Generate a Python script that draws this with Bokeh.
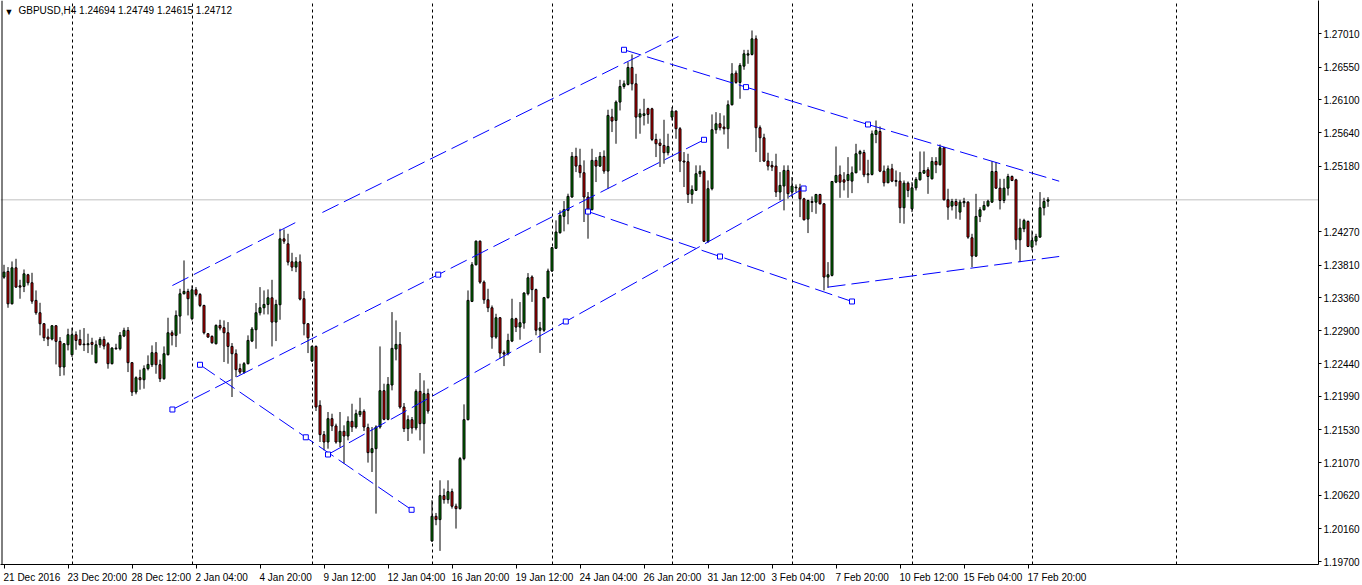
import numpy as np
from bokeh.plotting import figure
from bokeh.models import (ColumnDataSource, FixedTicker, Range1d, Span, Label,
                          PrintfTickFormatter)
from bokeh.embed import file_html
from bokeh.resources import INLINE

symbol = "GBPUSD,H4"

open_ = [
 1.23642,1.23721,1.23273,1.23771,1.23522,1.23513,1.23675,1.23564,1.23320,1.23149,
 1.22997,1.22812,1.22785,1.22969,1.22753,1.22398,1.22706,1.22568,1.22845,1.22780,
 1.22716,1.22706,1.22739,1.22458,1.22706,1.22780,1.22720,1.22444,1.22660,1.22651,
 1.22826,1.22905,1.22458,1.22052,1.22250,1.22222,1.22375,1.22430,1.22596,1.22430,
 1.22236,1.22568,1.22872,1.22836,1.23103,1.23412,1.23444,1.23066,1.23467,1.23403,
 1.23250,1.22859,1.22822,1.22720,1.22974,1.22942,1.22872,1.22683,1.22582,1.22375,
 1.22328,1.22444,1.22757,1.22914,1.23149,1.23218,1.23264,1.23356,1.23020,1.23260,
 1.24172,1.24103,1.23854,1.23781,1.23854,1.23343,1.22997,1.22481,1.22683,1.21867,
 1.21462,1.21360,1.21683,1.21582,1.21360,1.21508,1.21443,1.21646,1.21568,1.21738,
 1.21784,1.21559,1.21213,1.21268,1.21568,1.22070,1.21674,1.22149,1.22647,1.22711,
 1.21844,1.21545,1.21669,1.21554,1.22061,1.21614,1.22029,1.19991,1.20332,1.20286,
 1.20618,1.20563,1.20673,1.20471,1.20438,1.21130,1.21669,1.23306,1.23813,1.24140,
 1.23573,1.23329,1.23218,1.22812,1.23080,1.22596,1.22582,1.22757,1.23066,1.22951,
 1.23006,1.23412,1.23644,1.23469,1.22907,1.22907,1.23358,1.23727,1.24041,1.24257,
 1.24483,1.24566,1.24751,1.25313,1.25189,1.25087,1.24751,1.24576,1.25258,1.25179,
 1.25313,1.25110,1.25857,1.25811,1.26065,1.26281,1.26309,1.26544,1.26318,1.25857,
 1.25880,1.25972,1.25972,1.25548,1.25498,1.25465,1.25364,1.25857,1.25940,1.25696,
 1.25249,1.25239,1.24788,1.24843,1.25073,1.25106,1.24138,1.24866,1.25682,1.25765,
 1.25719,1.25696,1.26028,1.26466,1.26337,1.26562,1.26715,1.26724,1.26940,1.25710,
 1.25571,1.25249,1.25189,1.25179,1.24820,1.24903,1.25119,1.24820,1.24878,1.24878,
 1.24726,1.24445,1.24689,1.24680,1.24786,1.24657,1.23643,1.23666,1.24957,1.25058,
 1.24989,1.24980,1.24971,1.25086,1.25349,1.25367,1.25058,1.25063,1.25616,1.25658,
 1.25109,1.24948,1.25141,1.24980,1.24971,1.24602,1.24943,1.24588,1.24878,1.24989,
 1.25081,1.25127,1.25003,1.25243,1.25197,1.25432,1.24713,1.24625,1.24689,1.24542,
 1.24671,1.24680,1.24187,1.23933,1.24482,1.24574,1.24630,1.24680,1.25104,1.24874,
 1.24703,1.24874,1.25035,1.24989,1.24159,1.24311,1.24413,1.24058,1.24141,1.24196,
 1.24602,1.24694]
high = [
 1.23813,1.23781,1.23859,1.23896,1.23605,1.23748,1.23688,1.23702,1.23458,1.23287,
 1.23006,1.22928,1.22978,1.22978,1.22812,1.22730,1.22928,1.22942,1.22891,1.22914,
 1.22937,1.22859,1.22803,1.22766,1.22812,1.22822,1.22743,1.22674,1.22720,1.22882,
 1.22942,1.22951,1.22467,1.22269,1.22361,1.22421,1.22559,1.22697,1.22743,1.22499,
 1.22683,1.23080,1.22905,1.23181,1.23481,1.23873,1.23481,1.23527,1.23504,1.23421,
 1.23260,1.22868,1.22836,1.22988,1.23052,1.23043,1.23020,1.22730,1.22642,1.22444,
 1.22467,1.22836,1.22951,1.23283,1.23504,1.23458,1.23472,1.23605,1.23329,1.24311,
 1.24302,1.24242,1.23979,1.23919,1.23956,1.23449,1.23006,1.22697,1.22697,1.21937,
 1.21512,1.21775,1.21752,1.21614,1.21775,1.21591,1.21715,1.21890,1.21808,1.21973,
 1.21812,1.21614,1.21568,1.21591,1.22683,1.22167,1.22259,1.23158,1.23043,1.22882,
 1.21900,1.21729,1.21706,1.22089,1.22315,1.22213,1.22098,1.20554,1.20378,1.20830,
 1.20715,1.20830,1.20715,1.20507,1.21153,1.21881,1.23458,1.23850,1.24149,1.24149,
 1.23596,1.23481,1.23250,1.23135,1.23089,1.22628,1.22859,1.23343,1.23080,1.23297,
 1.23435,1.23698,1.23667,1.23483,1.23022,1.23368,1.23760,1.24059,1.24428,1.24566,
 1.24695,1.24797,1.25373,1.25433,1.25419,1.25258,1.24820,1.25419,1.25304,1.25373,
 1.25396,1.25959,1.25972,1.26088,1.26373,1.26364,1.26618,1.26724,1.26456,1.25972,
 1.26111,1.25986,1.25986,1.25627,1.25557,1.25820,1.25627,1.25995,1.25949,1.25719,
 1.25373,1.25350,1.24912,1.25189,1.25189,1.25119,1.24981,1.25894,1.25926,1.25912,
 1.25880,1.26088,1.26604,1.26502,1.26604,1.26788,1.26788,1.27056,1.26987,1.25742,
 1.25627,1.25364,1.25249,1.25350,1.25096,1.25189,1.25189,1.25027,1.24925,1.24934,
 1.24740,1.24713,1.24759,1.24795,1.24795,1.24666,1.23850,1.24971,1.25450,1.25187,
 1.25095,1.25303,1.25174,1.25487,1.25404,1.25404,1.25266,1.25671,1.25810,1.25727,
 1.25187,1.25187,1.25210,1.25118,1.25095,1.24980,1.24966,1.24957,1.25026,1.25381,
 1.25381,1.25164,1.25303,1.25303,1.25478,1.25441,1.24865,1.24726,1.24726,1.24713,
 1.24740,1.24694,1.24242,1.24795,1.24611,1.24694,1.24713,1.25247,1.25233,1.25003,
 1.25003,1.25072,1.25049,1.25003,1.24450,1.24450,1.24427,1.24288,1.24242,1.24819,
 1.24740,1.24749]
low = [
 1.23619,1.23218,1.23264,1.23495,1.23343,1.23435,1.23527,1.23273,1.23121,1.22836,
 1.22757,1.22688,1.22766,1.22434,1.22273,1.22282,1.22628,1.22536,1.22637,1.22697,
 1.22619,1.22591,1.22568,1.22448,1.22665,1.22642,1.22375,1.22434,1.22637,1.22628,
 1.22812,1.22328,1.21997,1.22020,1.22084,1.22098,1.22351,1.22398,1.22305,1.22190,
 1.22222,1.22559,1.22697,1.22674,1.22859,1.23403,1.23112,1.23043,1.23375,1.23227,
 1.22849,1.22803,1.22720,1.22711,1.22905,1.22467,1.22444,1.21983,1.22259,1.22296,
 1.22305,1.22434,1.22743,1.22651,1.23112,1.23126,1.23126,1.22683,1.22757,1.23052,
 1.24103,1.23804,1.23725,1.23711,1.23320,1.22836,1.22591,1.22467,1.21789,1.21360,
 1.21245,1.21268,1.21512,1.21337,1.21291,1.21061,1.21383,1.21499,1.21545,1.21706,
 1.21512,1.21075,1.20945,1.20369,1.21545,1.21660,1.21660,1.22075,1.22490,1.21821,
 1.21499,1.21374,1.21476,1.21522,1.21383,1.21199,1.21752,1.19977,1.20208,1.19853,
 1.20507,1.20507,1.20438,1.20162,1.20425,1.21107,1.21660,1.23297,1.23804,1.23550,
 1.23273,1.23158,1.22651,1.22789,1.22513,1.22411,1.22559,1.22743,1.22882,1.22776,
 1.22928,1.23389,1.23299,1.22838,1.22593,1.22884,1.23345,1.23713,1.24036,1.24244,
 1.24276,1.24373,1.24741,1.25096,1.25018,1.24405,1.24174,1.24566,1.24958,1.25166,
 1.25073,1.24866,1.25650,1.25488,1.25949,1.26249,1.26295,1.26226,1.25557,1.25627,
 1.25742,1.25765,1.25525,1.25304,1.25166,1.25212,1.25327,1.25811,1.25557,1.25096,
 1.24889,1.24668,1.24658,1.24834,1.25027,1.24128,1.24114,1.24843,1.25627,1.25673,
 1.25617,1.25419,1.26018,1.26318,1.26111,1.26512,1.26595,1.26710,1.25373,1.25235,
 1.25235,1.25119,1.25110,1.24751,1.24705,1.24566,1.24728,1.24751,1.24819,1.24473,
 1.24427,1.24252,1.24542,1.24519,1.24648,1.23459,1.23495,1.23652,1.24943,1.24740,
 1.24842,1.24740,1.24805,1.25081,1.25118,1.25026,1.24943,1.25049,1.25496,1.25095,
 1.24897,1.24943,1.24957,1.24897,1.24390,1.24381,1.24749,1.24542,1.24842,1.24980,
 1.25072,1.24795,1.24994,1.25081,1.25187,1.24703,1.24436,1.24565,1.24450,1.24436,
 1.24611,1.24173,1.23781,1.23920,1.24404,1.24565,1.24611,1.24671,1.24865,1.24579,
 1.24666,1.24772,1.24971,1.24021,1.23850,1.24265,1.24058,1.24012,1.24081,1.24187,
 1.24496,1.24615]
close = [
 1.23711,1.23273,1.23771,1.23504,1.23504,1.23688,1.23564,1.23310,1.23149,1.22997,
 1.22803,1.22785,1.22969,1.22753,1.22398,1.22720,1.22845,1.22845,1.22766,1.22706,
 1.22706,1.22720,1.22711,1.22706,1.22780,1.22688,1.22444,1.22660,1.22651,1.22836,
 1.22905,1.22458,1.22052,1.22250,1.22222,1.22375,1.22434,1.22596,1.22430,1.22236,
 1.22582,1.22872,1.22836,1.23112,1.23412,1.23444,1.23343,1.23467,1.23403,1.23250,
 1.22872,1.22812,1.22734,1.22974,1.22937,1.22872,1.22683,1.22582,1.22361,1.22328,
 1.22444,1.22766,1.22923,1.23149,1.23218,1.23264,1.23356,1.23020,1.23264,1.24172,
 1.24140,1.23850,1.23781,1.23854,1.23338,1.22997,1.22803,1.22683,1.21844,1.21462,
 1.21360,1.21683,1.21582,1.21360,1.21508,1.21443,1.21646,1.21568,1.21752,1.21784,
 1.21568,1.21213,1.21268,1.21568,1.22070,1.21674,1.22158,1.22656,1.22711,1.21844,
 1.21545,1.21669,1.21554,1.22061,1.21614,1.22029,1.21789,1.20332,1.20286,1.20618,
 1.20563,1.20673,1.20471,1.20438,1.21130,1.21669,1.23320,1.23813,1.24140,1.23573,
 1.23329,1.23218,1.22812,1.23080,1.22591,1.22577,1.22766,1.23066,1.22951,1.23011,
 1.23421,1.23633,1.23469,1.22907,1.22939,1.23358,1.23727,1.24050,1.24267,1.24497,
 1.24576,1.24760,1.25313,1.25179,1.25087,1.24751,1.24566,1.25258,1.25179,1.25313,
 1.25110,1.25880,1.25802,1.26065,1.26281,1.26318,1.26544,1.26318,1.25857,1.25903,
 1.25903,1.25894,1.25548,1.25488,1.25465,1.25364,1.25451,1.25940,1.25696,1.25249,
 1.25235,1.24788,1.24852,1.25073,1.25106,1.24138,1.24866,1.25682,1.25765,1.25710,
 1.25696,1.26028,1.26456,1.26337,1.26572,1.26733,1.26733,1.26940,1.25710,1.25571,
 1.25249,1.25179,1.25166,1.24820,1.24912,1.25119,1.24797,1.24903,1.24888,1.24726,
 1.24436,1.24703,1.24676,1.24786,1.24657,1.23643,1.23675,1.24966,1.25049,1.24957,
 1.24957,1.25063,1.25086,1.25349,1.25381,1.25058,1.25072,1.25625,1.25671,1.25109,
 1.24948,1.25141,1.24971,1.24966,1.24602,1.24943,1.24842,1.24878,1.24994,1.25091,
 1.25118,1.25035,1.25243,1.25197,1.25432,1.24713,1.24611,1.24689,1.24634,1.24680,
 1.24689,1.24196,1.23933,1.24482,1.24574,1.24634,1.24694,1.25104,1.24874,1.24703,
 1.24874,1.25035,1.24980,1.24159,1.24321,1.24427,1.24067,1.24150,1.24205,1.24602,
 1.24689,1.24712]

date_labels = ["21 Dec 2016", "23 Dec 20:00", "28 Dec 12:00", "2 Jan 04:00", "4 Jan 20:00",
               "9 Jan 12:00", "12 Jan 04:00", "16 Jan 20:00", "19 Jan 12:00", "24 Jan 04:00",
               "26 Jan 20:00", "31 Jan 12:00", "3 Feb 04:00", "7 Feb 20:00", "10 Feb 12:00",
               "15 Feb 04:00", "17 Feb 20:00"]
bars_per_label = 16

price_ticks = [1.27010, 1.26550, 1.26100, 1.25640, 1.25180, 1.24270, 1.23810, 1.23360,
               1.22900, 1.22440, 1.21990, 1.21530, 1.21070, 1.20620, 1.20160, 1.19700]

# drawn trend lines: bar index / price of both ends
trend_bar0 = [42.1, 42.1, 79.6, 81.0, 49.0, 155.0, 216.0, 146.0, 205.9]
trend_px0 = [1.23526, 1.21810, 1.24537, 1.21187, 1.22429, 1.26789, 1.25755, 1.24550, 1.23503]
trend_bar1 = [72.9, 175.0, 168.6, 199.9, 101.9, 216.0, 263.8, 212.0, 263.8]
trend_px1 = [1.24398, 1.25543, 1.26973, 1.24869, 1.20422, 1.25755, 1.24970, 1.23305, 1.23928]
trend_selected = [False, True, False, True, True, True, False, True, False]

# ---------------- layout / style ----------------
FONT = "Liberation Sans"
BULL, BEAR, BLUE = "#008000", "#e00000", "#0000ff"
PX_PER_BAR = 4.0
FRAME_W, FRAME_H = 1318, 564
W, H = 1362, 585
x_start = -0.875
x_end = x_start + FRAME_W / PX_PER_BAR
y_lo, y_hi = 1.196647, 1.274709
week_bars = [17, 47, 77, 107, 137, 167, 197, 227, 257, 293]

n = len(open_)
idx = np.arange(n)
o = np.array(open_); c = np.array(close)
src = ColumnDataSource(dict(
    x=idx, high=high, low=low,
    top=np.maximum(o, c), bottom=np.minimum(o, c),
    color=[BULL if cc >= oo else BEAR for oo, cc in zip(open_, close)],
))

p = figure(width=W, height=H, x_range=Range1d(x_start, x_end), y_range=Range1d(y_lo, y_hi),
           y_axis_location="right", toolbar_location=None, output_backend="svg",
           min_border_left=0, min_border_top=0,
           min_border_right=W - FRAME_W, min_border_bottom=H - FRAME_H,
           background_fill_color="white", border_fill_color="white",
           outline_line_color=None)

# grid: weekly dashed verticals only
p.xgrid.ticker = FixedTicker(ticks=week_bars)
p.xgrid.grid_line_color = "black"
p.xgrid.grid_line_dash = "3 3"
p.ygrid.grid_line_color = None

# left border of chart window
p.add_layout(Span(location=x_start + 0.25 + 0.125, dimension="height",
                  line_color="black", line_width=1))

# bid line
p.add_layout(Span(location=close[-1], dimension="width", line_color="#c0c0c0",
                  line_width=1, level="underlay"))

# candles
p.segment(x0="x", y0="low", x1="x", y1="high", line_color="black", line_width=1, source=src)
p.vbar(x="x", width=0.5, top="top", bottom="bottom", fill_color="color",
       line_color="black", line_width=1, source=src)

# trend lines + anchors
p.segment(x0=trend_bar0, y0=trend_px0, x1=trend_bar1, y1=trend_px1,
          line_color=BLUE, line_width=1, line_dash="18 6")
ax, ay = [], []
for b0, p0, b1, p1, sel in zip(trend_bar0, trend_px0, trend_bar1, trend_px1, trend_selected):
    if sel:
        ax += [b0, (b0 + b1) / 2, b1]
        ay += [p0, (p0 + p1) / 2, p1]
p.scatter(x=ax, y=ay, marker="square", size=5, fill_color="white", line_color=BLUE, line_width=1)

# right price axis
ya = p.yaxis[0]
ya.ticker = FixedTicker(ticks=price_ticks)
ya.formatter = PrintfTickFormatter(format="%.5f")
ya.major_tick_out = 3
ya.major_tick_in = 0
ya.minor_tick_out = 0
ya.minor_tick_in = 0
ya.major_label_standoff = 2
ya.major_label_text_font = FONT
ya.major_label_text_font_size = "10px"
ya.major_label_text_color = "black"
ya.axis_line_color = "black"

# bottom time axis: ticks at label bars, text starting at the tick
CW = {d: 0.556 for d in "0123456789"}
CW.update({" ": 0.278, ":": 0.278, "D": 0.722, "e": 0.556, "c": 0.5, "J": 0.5,
           "a": 0.556, "n": 0.556, "F": 0.611, "b": 0.556})
def text_w(s, px=10):
    return sum(CW.get(ch, 0.556) for ch in s) * px

tick_bars = [k * bars_per_label for k in range(len(date_labels))]
centers, overrides = [], {}
for tb, lab in zip(tick_bars, date_labels):
    half = (text_w(lab) / 2 - 0.5) / PX_PER_BAR
    cx = round(tb + half, 3)
    centers.append(cx)
    overrides[cx] = lab
xa = p.xaxis[0]
xa.ticker = FixedTicker(ticks=centers, minor_ticks=tick_bars)
xa.major_label_overrides = overrides
xa.major_tick_out = 0
xa.major_tick_in = 0
xa.minor_tick_out = 4
xa.minor_tick_in = 0
xa.minor_tick_line_color = "black"
xa.major_label_standoff = 3
xa.major_label_text_font = FONT
xa.major_label_text_font_size = "10px"
xa.major_label_text_color = "black"
xa.axis_line_color = "black"

# header text
p.add_layout(Label(x=x_start, y=y_hi, x_offset=4, y_offset=-6, text="\u25BC",
                   text_font=FONT, text_font_size="9px", text_color="black",
                   text_baseline="top"))
p.add_layout(Label(x=x_start, y=y_hi, x_offset=18, y_offset=-4,
                   text=f"{symbol}  {open_[-1]:.5f} {high[-1]:.5f} {low[-1]:.5f} {close[-1]:.5f}",
                   text_font=FONT, text_font_size="10px", text_color="black",
                   text_baseline="top"))

# current price box on the axis
p.add_layout(Label(x=x_end, y=close[-1], x_offset=2, text=f"{close[-1]:.5f}",
                   text_font=FONT, text_font_size="10px", text_color="white",
                   text_baseline="middle", background_fill_color="black", padding=1))

open("out.html", "w").write(file_html(p, INLINE))
